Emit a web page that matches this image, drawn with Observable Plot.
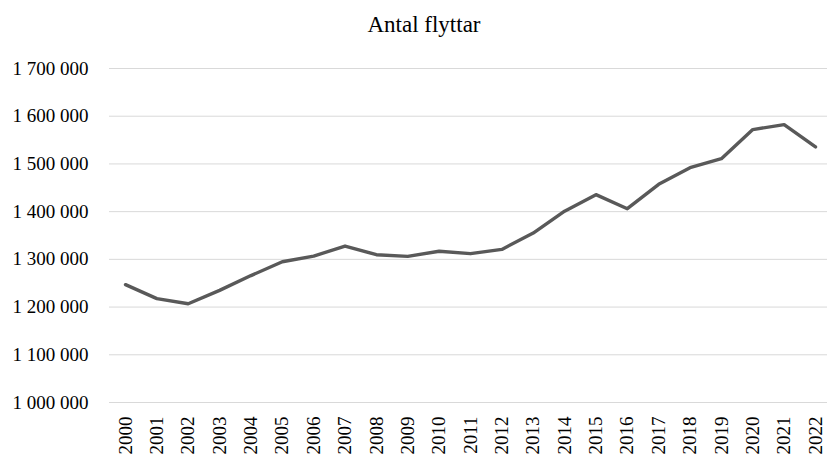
<!DOCTYPE html>
<html>
<head>
<meta charset="utf-8">
<script src="https://cdn.jsdelivr.net/npm/d3@7"></script>
<script src="https://cdn.jsdelivr.net/npm/@observablehq/plot@0.6"></script>
<style>
  html, body { margin: 0; padding: 0; background: #fff; }
  #wrap { width: 827px; height: 456px; overflow: hidden; }
  #title { box-sizing: border-box; height: 44px; padding-top: 13px; padding-left: 21px; text-align: center;
           font-family: "Liberation Serif", serif; font-size: 23px; line-height: 23px; color: #000; }
  svg { display: block; }
</style>
</head>
<body>
<div id="wrap">
  <div id="title">Antal flyttar</div>
  <div id="chart"></div>
</div>
<script>
const years = [2000, 2001, 2002, 2003, 2004, 2005, 2006, 2007, 2008, 2009, 2010, 2011,
               2012, 2013, 2014, 2015, 2016, 2017, 2018, 2019, 2020, 2021, 2022];
const moves = [1247000, 1217600, 1207000, 1235000, 1266000, 1295000, 1306900, 1327900,
               1309800, 1306300, 1317000, 1311900, 1320900, 1355000, 1401000, 1435600,
               1406200, 1457200, 1492200, 1511100, 1571900, 1582400, 1535500];
const yTicks = [1000000, 1100000, 1200000, 1300000, 1400000, 1500000, 1600000, 1700000];

const data = years.map((y, i) => ({year: y, value: moves[i]}));
const fmt = v => d3.format(",")(v).replace(/,/g, " ");

const chart = Plot.plot({
  width: 827,
  height: 412,
  marginTop: 24,
  marginBottom: 54,
  marginLeft: 125,
  marginRight: 12,
  style: {fontFamily: "Liberation Serif, serif", color: "#000", background: "#fff"},
  x: {domain: [2000, 2022]},
  y: {domain: [1000000, 1700000]},
  marks: [
    Plot.ruleY(yTicks, {stroke: "#d9d9d9", strokeWidth: 1, insetLeft: -16, insetRight: -12}),
    Plot.axisY({ticks: yTicks, tickSize: 0, tickPadding: 37, tickFormat: fmt, fontSize: 19, label: null}),
    Plot.axisX({ticks: years, tickSize: 0, tickPadding: 14, tickRotate: -90, tickFormat: d => String(d), fontSize: 19, label: null}),
    Plot.line(data, {x: "year", y: "value", stroke: "#595959", strokeWidth: 3.4, strokeLinejoin: "round", strokeLinecap: "round"})
  ]
});
document.getElementById("chart").appendChild(chart);
</script>
</body>
</html>
